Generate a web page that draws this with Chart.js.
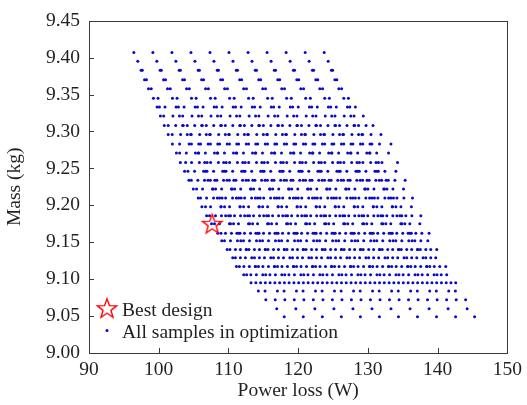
<!DOCTYPE html>
<html>
<head>
<meta charset="utf-8">
<script src="https://cdn.jsdelivr.net/npm/chart.js@4.4.1/dist/chart.umd.min.js"></script>
<style>
  html, body { margin: 0; padding: 0; background: #ffffff; }
  #wrap { width: 527px; height: 405px; }
</style>
</head>
<body>
<div id="wrap"><canvas id="c" width="527" height="405"></canvas></div>
<script>
// ---- data ----
const xTicks = [90, 100, 110, 120, 130, 140, 150];
const yTicks = [9.00, 9.05, 9.10, 9.15, 9.20, 9.25, 9.30, 9.35, 9.40, 9.45];

// mass levels (kg) of the sample rows, top to bottom
const massLevels = [9.407, 9.395, 9.383, 9.370, 9.358, 9.345, 9.333, 9.321, 9.308, 9.296,
  9.283, 9.271, 9.258, 9.246, 9.234, 9.222, 9.210, 9.198, 9.186, 9.175,
  9.162, 9.152, 9.140, 9.129, 9.117, 9.106, 9.095, 9.084, 9.072, 9.060, 9.049];

// power loss (W) of the samples of the first (left-most) family, per mass row
const firstFamilyLoss = [
  [96.43],
  [97.00],
  [97.47, 97.64],
  [97.96, 98.24],
  [98.53, 98.93],
  [99.24, 99.90],
  [99.76, 100.10, 100.90],
  [100.24, 100.71, 102.04],
  [100.79, 101.36, 102.43, 103.43],
  [101.36, 101.93, 103.14, 104.57],
  [101.96, 103.00, 104.36, 106.00],
  [102.53, 103.00, 103.96, 105.66],
  [103.10, 103.86, 104.71, 106.94],
  [103.71, 104.19, 105.14, 106.71],
  [104.33, 104.67, 105.61, 106.57, 108.04],
  [104.96, 105.43, 106.29, 107.80],
  [105.67, 106.00, 106.86, 107.86, 109.09],
  [106.19, 106.71, 107.43, 108.94],
  [106.86, 107.29, 108.14, 109.00, 110.29],
  [107.57, 108.00, 108.71, 110.14],
  [108.47, 108.93, 109.57, 110.43, 111.47],
  [109.04, 109.43, 110.29, 111.29],
  [109.81, 110.21, 111.00, 111.71, 112.57],
  [110.61, 111.00, 111.71, 112.43],
  [111.14, 111.57, 112.21, 113.00, 113.86],
  [112.19, 112.61, 113.21, 114.00],
  [113.24, 113.93, 114.61, 115.29],
  [114.29, 115.24],
  [115.36, 116.71],
  [116.93],
  [118.00]
];

// power-loss offset (W) of each of the 11 sample families (read from top / bottom rows)
const familyOffset = [0, 2.73, 5.46, 8.19, 10.92, 13.65, 16.38, 19.11, 21.84, 24.57, 27.30];

// best design
const bestLoss = [107.67];
const bestMass = [9.175];

const seriesNames = ['Best design', 'All samples in optimization'];

// ---- build library data ----
const samples = [];
familyOffset.forEach(off => {
  massLevels.forEach((m, r) => {
    firstFamilyLoss[r].forEach(l => samples.push({ x: +(l + off).toFixed(2), y: m }));
  });
});
const best = bestLoss.map((l, i) => ({ x: l, y: bestMass[i] }));

const FONT = 'Liberation Serif, Times New Roman, serif';
const TEXT = '#231f20';
const DOT = '#0a0ac8';
const FS = 19.5;

// star marker image
function makeStar(size, outer, inner, color, lw) {
  const c = document.createElement('canvas');
  c.width = size; c.height = size;
  const g = c.getContext('2d');
  const cx = size / 2, cy = size / 2 + 0.8;
  g.beginPath();
  for (let i = 0; i < 10; i++) {
    const r = i % 2 === 0 ? outer : inner;
    const a = -Math.PI / 2 + i * Math.PI / 5;
    const px = cx + r * Math.cos(a), py = cy + r * Math.sin(a);
    if (i === 0) g.moveTo(px, py); else g.lineTo(px, py);
  }
  g.closePath();
  g.strokeStyle = color; g.lineWidth = lw; g.lineJoin = 'miter';
  g.stroke();
  return c;
}
const starImg = makeStar(24, 10.2, 4.2, '#ff0000', 1.4);

const framePlugin = {
  id: 'frame',
  afterDraw(chart) {
    const { ctx, chartArea: a, scales } = chart;
    ctx.save();
    ctx.strokeStyle = '#3a3a3a';
    ctx.lineWidth = 1;
    ctx.strokeRect(Math.round(a.left) + 0.5, Math.round(a.top) + 0.5,
      Math.round(a.right - a.left), Math.round(a.bottom - a.top));
    ctx.beginPath();
    xTicks.forEach(v => {
      const px = Math.round(scales.x.getPixelForValue(v)) + 0.5;
      ctx.moveTo(px, a.bottom); ctx.lineTo(px, a.bottom - 5);
    });
    yTicks.forEach(v => {
      const py = Math.round(scales.y.getPixelForValue(v)) + 0.5;
      ctx.moveTo(a.left, py); ctx.lineTo(a.left + 5, py);
    });
    ctx.stroke();

    // legend inside the plot, lower left
    const lx = a.left + 18, ly1 = a.bottom - 44, ly2 = a.bottom - 22.5;
    ctx.drawImage(starImg, lx - 12, ly1 - 12.8);
    ctx.fillStyle = DOT;
    ctx.beginPath(); ctx.arc(lx, ly2, 1.5, 0, Math.PI * 2); ctx.fill();
    ctx.fillStyle = TEXT;
    ctx.font = FS + 'px ' + FONT;
    ctx.textBaseline = 'alphabetic';
    ctx.textAlign = 'left';
    ctx.fillText(seriesNames[0], lx + 15, ly1 + 7);
    ctx.fillText(seriesNames[1], lx + 15, ly2 + 7);
    ctx.restore();
  }
};

new Chart(document.getElementById('c'), {
  type: 'scatter',
  data: {
    datasets: [
      {
        label: seriesNames[0], data: best, pointStyle: starImg,
        pointRadius: 10, order: 0
      },
      {
        label: seriesNames[1], data: samples, pointStyle: 'circle',
        pointRadius: 1.5, pointBorderWidth: 0, backgroundColor: DOT,
        borderColor: DOT, order: 1
      }
    ]
  },
  options: {
    responsive: false,
    animation: false,
    devicePixelRatio: 1,
    layout: { padding: { left: 0, right: 18, top: 19, bottom: 0 } },
    plugins: { legend: { display: false }, tooltip: { enabled: false } },
    scales: {
      x: {
        type: 'linear', min: 90, max: 150,
        afterBuildTicks: s => { s.ticks = xTicks.map(v => ({ value: v })); },
        afterFit: s => { s.height = 52; },
        grid: { display: false, drawTicks: false },
        border: { display: false },
        ticks: { padding: 5, color: TEXT, font: { family: FONT, size: FS }, maxRotation: 0,
          callback: v => String(v) },
        title: { display: true, text: 'Power loss (W)', color: TEXT,
          font: { family: FONT, size: FS }, padding: { top: 0, bottom: 2 } }
      },
      y: {
        type: 'linear', min: 9.0, max: 9.45,
        afterBuildTicks: s => { s.ticks = yTicks.map(v => ({ value: v })); },
        afterFit: s => { s.width = 89; },
        grid: { display: false, drawTicks: false },
        border: { display: false },
        ticks: { padding: 9, color: TEXT, font: { family: FONT, size: FS },
          callback: v => Number(v).toFixed(2) },
        title: { display: true, text: 'Mass (kg)', color: TEXT,
          font: { family: FONT, size: FS }, padding: { top: 3, bottom: 0 } }
      }
    }
  },
  plugins: [framePlugin]
});
</script>
</body>
</html>
